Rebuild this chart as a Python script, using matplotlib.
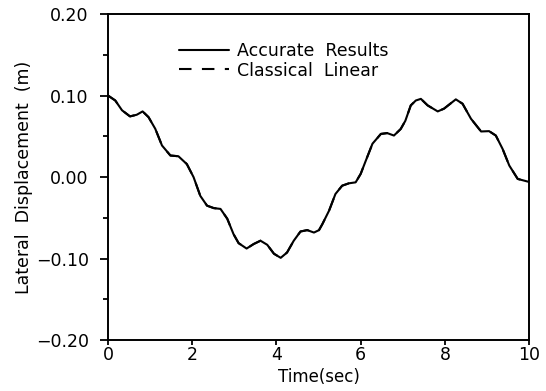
import numpy as np
import matplotlib
matplotlib.use('Agg')
import matplotlib.pyplot as plt

# values (both methods coincide)
time = [0.0, 0.17, 0.33, 0.52, 0.68, 0.82, 0.96, 1.12, 1.28, 1.48, 1.67, 1.87,
        2.03, 2.19, 2.35, 2.51, 2.67, 2.83, 2.98, 3.10, 3.29, 3.46, 3.62, 3.78,
        3.94, 4.10, 4.25, 4.41, 4.57, 4.73, 4.89, 5.01, 5.09, 5.25, 5.40, 5.56,
        5.72, 5.88, 6.00, 6.12, 6.28, 6.48, 6.63, 6.79, 6.95, 7.06, 7.19, 7.31,
        7.43, 7.59, 7.83, 7.98, 8.26, 8.42, 8.62, 8.86, 9.05, 9.21, 9.37, 9.53,
        9.73, 9.97, 10.0]
accurate = [0.100, 0.094, 0.082, 0.0745, 0.0765, 0.0806, 0.0736, 0.0593, 0.0388,
            0.0265, 0.0256, 0.016, 0.0, -0.023, -0.035, -0.038, -0.039, -0.051,
            -0.070, -0.081, -0.0876, -0.082, -0.078, -0.083, -0.094, -0.099,
            -0.0925, -0.078, -0.0667, -0.065, -0.068, -0.065, -0.0576, -0.041,
            -0.0207, -0.0105, -0.0076, -0.0064, 0.004, 0.020, 0.041, 0.053, 0.054,
            0.051, 0.059, 0.069, 0.088, 0.094, 0.096, 0.088, 0.0806, 0.084, 0.0954,
            0.090, 0.0716, 0.056, 0.0564, 0.051, 0.0347, 0.0142, -0.0022, -0.0055,
            -0.0055]
classical = list(accurate)

xticks = [0, 2, 4, 6, 8, 10]
yticks = [-0.20, -0.10, 0.00, 0.10, 0.20]
ytick_labels = ['\u22120.20', '\u22120.10', '0.00', '0.10', '0.20']
yminor = [-0.15, -0.05, 0.05, 0.15]

fig = plt.figure(figsize=(5.46, 3.91), dpi=100)
ax = fig.add_axes([0.198, 0.130, 0.771, 0.834])

ax.plot(time, classical, color='black', lw=1.5, dashes=(6, 5),
        solid_joinstyle='round', label='Classical  Linear')
ax.plot(time, accurate, color='black', lw=1.5, solid_joinstyle='round',
        solid_capstyle='round', label='Accurate  Results')

ax.set_xlim(0, 10)
ax.set_ylim(-0.2, 0.2)
ax.set_xticks(xticks)
ax.set_yticks(yticks)
ax.set_yticklabels(ytick_labels)
ax.set_yticks(yminor, minor=True)
ax.tick_params(axis='both', which='major', direction='out', width=1.3,
               labelsize=12.5, colors='black')
ax.tick_params(axis='y', which='major', length=6, pad=8)
ax.tick_params(axis='y', which='minor', direction='out', length=3.5, width=1.3)
ax.tick_params(axis='x', which='major', length=3.5, pad=0.5)
for s in ax.spines.values():
    s.set_linewidth(1.4)

ax.set_xlabel('Time(sec)', fontsize=12, labelpad=3)
ax.set_ylabel('Lateral  Displacement  (m)', fontsize=12.5, labelpad=2)

h, l = ax.get_legend_handles_labels()
ax.legend(h[::-1], l[::-1], loc='upper left', bbox_to_anchor=(0.168, 0.915),
          frameon=False, fontsize=12.5, handlelength=2.9, handletextpad=0.45,
          labelspacing=0.1, borderpad=0, borderaxespad=0)

fig.savefig('out.png', dpi=100)
